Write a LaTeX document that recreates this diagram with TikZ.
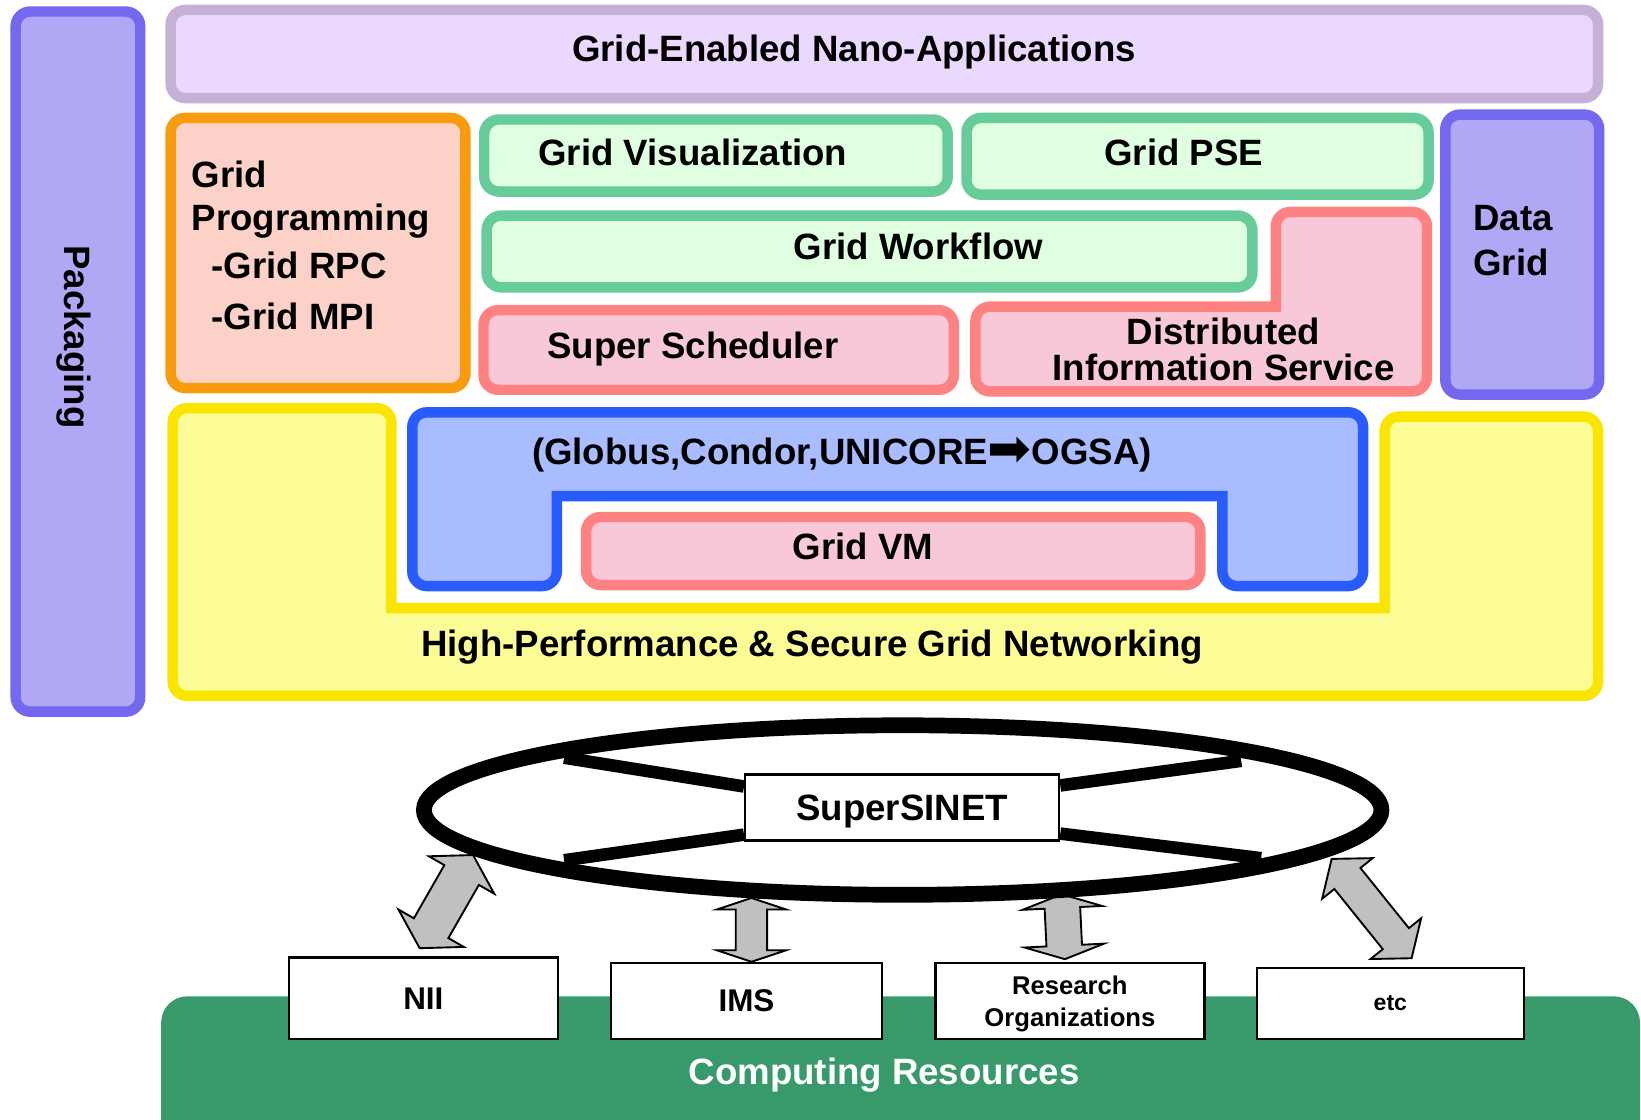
\documentclass[tikz,border=0pt]{standalone}
\usepackage{fontspec}
\setmainfont{Liberation Sans}
\newfontfamily\djv{DejaVu Sans}
\usetikzlibrary{calc,shapes.geometric}
\definecolor{pkS}{RGB}{116,104,238}
\definecolor{pkF}{RGB}{176,168,245}
\definecolor{topS}{RGB}{198,176,214}
\definecolor{topF}{RGB}{234,216,254}
\definecolor{orS}{RGB}{248,156,14}
\definecolor{orF}{RGB}{252,210,200}
\definecolor{grS}{RGB}{102,204,153}
\definecolor{grF}{RGB}{224,255,224}
\definecolor{piS}{RGB}{255,130,130}
\definecolor{piF}{RGB}{248,200,216}
\definecolor{yeS}{RGB}{250,228,0}
\definecolor{yeF}{RGB}{252,252,150}
\definecolor{blS}{RGB}{40,92,255}
\definecolor{blF}{RGB}{168,188,255}
\definecolor{crG}{RGB}{56,154,106}
\definecolor{arG}{RGB}{192,192,192}
\tikzset{
 lbx/.style={rectangle, rounded corners=14pt, line width=10pt, inner sep=0pt, outer sep=0pt},
 lay/.style={line width=10pt, rounded corners=14pt},
 t/.style={font=\fontsize{35}{38}\selectfont\bfseries, inner sep=0pt, anchor=base},
 wbox/.style={draw=black, fill=white, line width=2.2pt, inner sep=0pt, align=center, text depth=0pt},
 arw/.style={fill=arG, draw=black, line width=1.8pt, line join=miter},
 spoke/.style={line width=12pt, line cap=butt},
}
\newcommand{\lbox}[6]{\node[lbx,#6,minimum width={(#4-#2)*1pt},minimum height={(#5-#3)*1pt}] (#1) at ({(#2+#4)/2},{(#3+#5)/2}) {};}
\newcommand{\dblarr}[5]{%
\draw[arw] (#1)
 -- ($(#1)!#5pt!(#2)!#4pt!90:(#2)$)
 -- ($(#1)!#5pt!(#2)!#3pt!90:(#2)$)
 -- ($(#2)!#5pt!(#1)!#3pt!-90:(#1)$)
 -- ($(#2)!#5pt!(#1)!#4pt!-90:(#1)$)
 -- (#2)
 -- ($(#2)!#5pt!(#1)!#4pt!90:(#1)$)
 -- ($(#2)!#5pt!(#1)!#3pt!90:(#1)$)
 -- ($(#1)!#5pt!(#2)!#3pt!-90:(#2)$)
 -- ($(#1)!#5pt!(#2)!#4pt!-90:(#2)$)
 -- cycle;}
\begin{document}
\begin{tikzpicture}[x=1pt,y=-1pt]
\useasboundingbox (0,0) rectangle (1568,1070);
\fill[white] (0,0) rectangle (1568,1070);
% upper layers
\lbox{pack}{15}{11}{134}{680}{draw=pkS,fill=pkF}
\lbox{apps}{163}{9.5}{1527}{93.7}{draw=topS,fill=topF}
\lbox{prog}{163}{112.7}{444.7}{370.8}{draw=orS,fill=orF}
\lbox{gvis}{462.7}{114.2}{905.5}{183}{draw=grS,fill=grF}
\lbox{gpse}{923.6}{112.7}{1365}{186}{draw=grS,fill=grF}
\lbox{gwf}{465}{206}{1196.7}{274.6}{draw=grS,fill=grF}
\lbox{sched}{462}{296.4}{911.4}{372.4}{draw=piS,fill=piF}
\lbox{dgrid}{1381}{109.5}{1528}{377}{draw=pkS,fill=pkF}
\draw[lay,draw=piS,fill=piF] (932,374) -- (932,293) -- (1100,293) [sharp corners] -- (1219,293) -- (1219,250) [rounded corners=14pt] -- (1219,202.5) -- (1363.5,202.5) -- (1363.5,374) -- cycle;
% networking
\draw[lay,draw=yeS,fill=yeF] (165,390) -- (374,390) -- (374,480) [sharp corners] -- (374,581) -- (850,581) -- (1323,581) -- (1323,480) [rounded corners=14pt] -- (1323,398) -- (1527,398) -- (1527,665) -- (165,665) -- cycle;
\draw[lay,draw=blS,fill=blF] (394,394) -- (1302.5,394) -- (1302.5,560) -- (1168,560) -- (1168,520) [sharp corners] -- (1168,474) -- (850,474) -- (532,474) -- (532,520) [rounded corners=14pt] -- (532,560) -- (394,560) -- cycle;
\lbox{gvm}{560}{494}{1147}{559}{draw=piS,fill=piF}
% texts
\node[t] (tapps) at (816,58.5) {Grid-Enabled Nano-Applications};
\node[t,anchor=center,rotate=-90] (tpack) at (71,322) {Packaging};
\node[t,anchor=base west] (tp1) at (183,179) {Grid};
\node[t,anchor=base west] (tp2) at (183,219.8) {Programming};
\node[t,anchor=base west] (tp3) at (202,266) {-Grid RPC};
\node[t,anchor=base west] (tp4) at (202,315.3) {-Grid MPI};
\node[t] (tgvis) at (662,158.5) {Grid Visualization};
\node[t] (tgpse) at (1131,157.7) {Grid PSE};
\node[t] (tgwf) at (877.5,247.5) {Grid Workflow};
\node[t] (tsched) at (662,342.5) {Super Scheduler};
\node[t] (tdis1) at (1169,329.6) {Distributed};
\node[t] (tdis2) at (1169,363.5) {Information Service};
\node[t,anchor=base west] (tdg1) at (1407.6,220) {Data};
\node[t,anchor=base west] (tdg2) at (1407.6,263) {Grid};
\node[t] (tmid) at (804.5,443.5) {(Globus,Condor,UNICORE{\djv\mdseries\fontsize{50}{50}\selectfont\raisebox{-2pt}{➡}}OGSA)};
\node[t] (tgvm) at (824.6,534.5) {Grid VM};
\node[t] (tnet) at (776,627.5) {High-Performance \& Secure Grid Networking};
% computing resources
\fill[crG, rounded corners=25pt] (154,952) rectangle (1567,1110);
\node[t,text=white] (tcomp) at (844.7,1036) {Computing Resources};
% arrows
\coordinate (a1t) at (452,817); \coordinate (a1b) at (401,906);
\coordinate (a2t) at (718,858); \coordinate (a2b) at (718,919);
\coordinate (a3t) at (1014.5,854.5); \coordinate (a3b) at (1017.5,916.5);
\coordinate (a4t) at (1272.4,820.7); \coordinate (a4b) at (1348.8,915.6);
\dblarr{a1t}{a1b}{19}{36}{22}
\dblarr{a2t}{a2b}{15}{33}{11}
\dblarr{a3t}{a3b}{17}{38}{13}
\dblarr{a4t}{a4b}{16}{31}{24}
% resource boxes
\node[wbox,minimum width=257pt,minimum height=78pt,font=\fontsize{30}{32}\selectfont\bfseries] (nii) at (404.5,953.9) {NII};
\node[wbox,minimum width=258.6pt,minimum height=72.7pt,font=\fontsize{30}{32}\selectfont\bfseries] (ims) at (713.3,956.4) {IMS};
\node[wbox,minimum width=257pt,minimum height=73pt,font=\fontsize{24.5}{31}\selectfont\bfseries] (res) at (1022.3,956.5) {Research\\Organizations};
\node[wbox,minimum width=255pt,minimum height=68pt,font=\fontsize{22}{24}\selectfont\bfseries] (etc) at (1328.5,958.7) {etc};
% SuperSINET ring
\node[ellipse, draw, line width=15pt, minimum width=915pt, minimum height=162pt, inner sep=0pt] (ring) at (862.5,774) {};
\node[wbox, minimum width=300pt, minimum height=63pt, font=\fontsize{35}{38}\selectfont\bfseries] (sup) at (862,771.5) {SuperSINET};
\coordinate (sUL) at (539,724); \coordinate (sUR) at (1186,727);
\coordinate (sLL) at (539,822); \coordinate (sLR) at (1205,820);
\draw[spoke] ([yshift=20pt]sup.west) -- (sUL);
\draw[spoke] ([yshift=21pt]sup.east) -- (sUR);
\draw[spoke] ([yshift=-26pt]sup.west) -- (sLL);
\draw[spoke] ([yshift=-25pt]sup.east) -- (sLR);
\end{tikzpicture}
\end{document}
